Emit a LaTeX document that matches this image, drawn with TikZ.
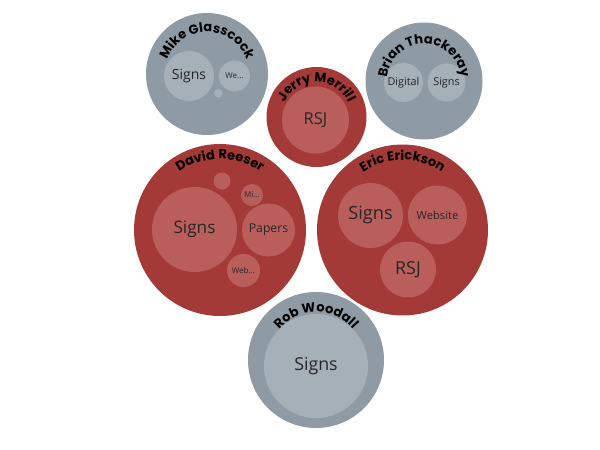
\documentclass[tikz,border=0pt]{standalone}
\usepackage{fontspec}
\newfontfamily\namefont{Poppins}
\newfontfamily\bubblefont{Open Sans}
\usetikzlibrary{decorations.text}

\definecolor{redout}{RGB}{163,58,55}
\definecolor{redin}{RGB}{186,94,92}
\definecolor{greyout}{RGB}{143,155,164}
\definecolor{greyin}{RGB}{166,176,184}
\newcommand{\fsz}[1]{\fontsize{#1}{#1}\selectfont}

\tikzset{
  bubble/.style={circle, inner sep=0pt, minimum size=#1pt},
  red group/.style={bubble=#1, fill=redout},
  grey group/.style={bubble=#1, fill=greyout},
  red item/.style={bubble=#1, fill=redin, text=black!85, font=\bubblefont},
  grey item/.style={bubble=#1, fill=greyin, text=black!85, font=\bubblefont},
}
% curved name along the top of a group bubble
\newcommand{\bubblelabel}[3]{%
  \path[decorate, decoration={text along path, text align=center,
      text={|\namefont\bfseries\fsz{6.5}|#3}}]
    ([shift={(180:#2)}]#1.center) arc[start angle=180, end angle=0, radius=#2];}

\begin{document}
\begin{tikzpicture}[x=0.5pt, y=0.5pt]
\useasboundingbox (0,0) rectangle (600,-450);

% group bubbles
\node[grey group=61] (mike) at (207,-74) {};
\node[grey group=58.5] (brian) at (424,-81) {};
\node[red group=50] (jerry) at (316.5,-117) {};
\node[red group=86] (david) at (220,-230) {};
\node[red group=85.5] (eric) at (402.5,-230) {};
\node[grey group=68] (rob) at (316,-360) {};

% Mike Glasscock
\node[grey item=25, font=\bubblefont\fsz{7}] (mikesigns) at (189,-76) {Signs};
\node[grey item=15.5, font=\bubblefont\fsz{4}] (mikeweb) at (234.5,-76) {We...};
\node[grey item=4.3] (mikedot) at (218.3,-93.3) {};

% Brian Thackeray
\node[grey item=19.5, font=\bubblefont\fsz{5.4}] (briandigital) at (403.5,-82.5) {Digital};
\node[grey item=19, font=\bubblefont\fsz{5.4}] (briansigns) at (446.5,-82.5) {Signs};

% Jerry Merrill
\node[red item=33.5, font=\bubblefont\fsz{8.2}] (jerryrsj) at (315.5,-120) {RSJ};

% David Reeser
\node[red item=42.5, font=\bubblefont\fsz{8.6}] (davidsigns) at (194.5,-229.5) {Signs};
\node[red item=26.5, font=\bubblefont\fsz{6.1}] (davidpapers) at (268.5,-230) {Papers};
\node[red item=16.5, font=\bubblefont\fsz{4}] (davidweb) at (243.5,-270.5) {Web...};
\node[red item=11, font=\bubblefont\fsz{4}] (davidmi) at (252,-195) {Mi...};
\node[red item=8.5] (daviddot) at (222,-181) {};

% Eric Erickson
\node[red item=32.5, font=\bubblefont\fsz{9.1}] (ericsigns) at (370.5,-215.5) {Signs};
\node[red item=29.5, font=\bubblefont\fsz{5.6}] (ericweb) at (437.5,-215) {Website};
\node[red item=28, font=\bubblefont\fsz{8.9}] (ericrsj) at (408,-269.5) {RSJ};

% Rob Woodall
\node[grey item=52, font=\bubblefont\fsz{8.9}] (robsigns) at (316,-366) {Signs};

% names
\bubblelabel{mike}{42}{Mike Glasscock}
\bubblelabel{brian}{37}{Brian Thackeray}
\bubblelabel{jerry}{35}{Jerry Merrill}
\bubblelabel{david}{71}{David Reeser}
\bubblelabel{eric}{70}{Eric Erickson}
\bubblelabel{rob}{48}{Rob Woodall}
\end{tikzpicture}
\end{document}
